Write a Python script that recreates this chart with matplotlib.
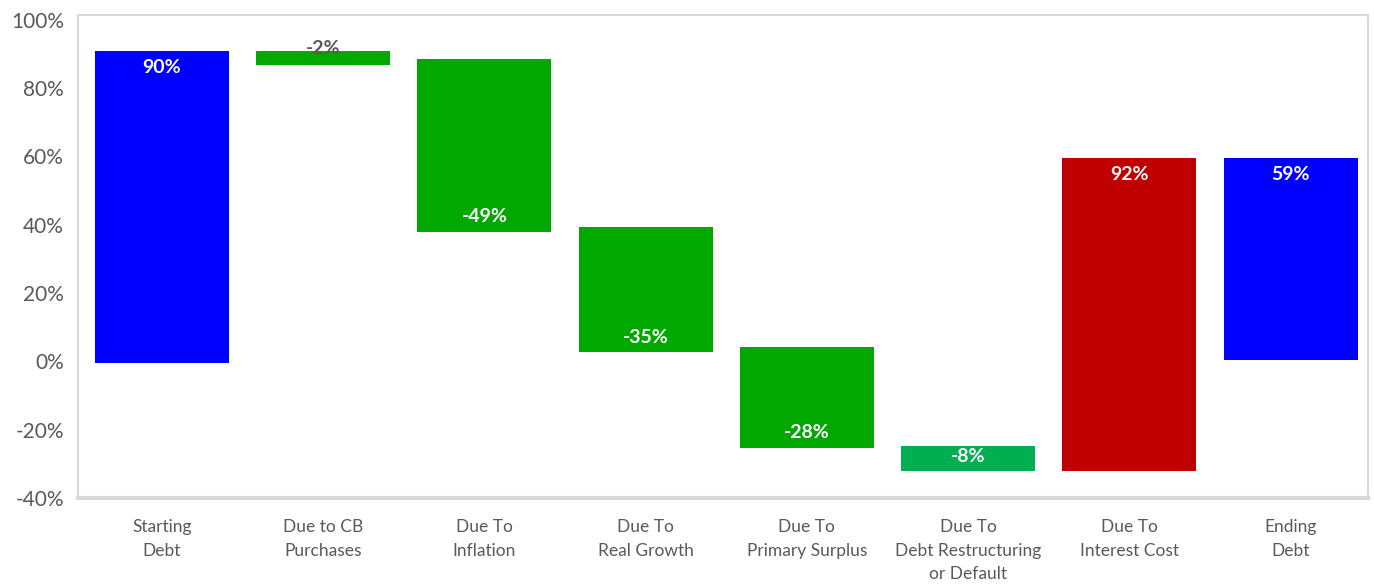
import numpy as np
import matplotlib.pyplot as plt

# waterfall data (% of GDP), bar bottoms/tops
categories = ["Starting\nDebt", "Due to CB\nPurchases", "Due To\nInflation", "Due To\nReal Growth",
              "Due To\nPrimary Surplus", "Due To\nDebt Restructuring\nor Default",
              "Due To\nInterest Cost", "Ending\nDebt"]
changes = [90, -2, -49, -35, -28, -8, 92, 59]
bottoms = [-0.5, 86.8, 37.8, 2.6, -25.3, -32.2, -32.2, 0.3]
tops = [91.0, 91.0, 88.6, 39.3, 4.3, -24.7, 59.6, 59.6]
colors = ["#0000FF", "#00A800", "#00A800", "#00A800", "#00A800", "#00B050", "#C00000", "#0000FF"]

plt.rcParams['font.family'] = ['Lato', 'DejaVu Sans']

fig = plt.figure(figsize=(13.74, 5.85), dpi=100)
ax = fig.add_axes([78/1374, 1-498/585, 1290/1374, 483/585])

x = np.arange(len(categories))
bottoms = np.array(bottoms)
tops = np.array(tops)
ax.bar(x+0.02, tops-bottoms, bottom=bottoms, width=0.83, color=colors, zorder=3)

#labels: inside top for increases, inside bottom for decreases, small one on top
for i in range(len(x)):
    v = changes[i]
    xc = x[i]+0.02
    if abs(tops[i]-bottoms[i]) < 6:
        if v == -2:
            ax.annotate(f"{v}%", (xc, tops[i]), xytext=(0, 1.5), textcoords='offset points',
                        ha='center', va='center', color='#595959', fontsize=14, fontweight='bold', zorder=4)
        else:
            ax.text(xc, (tops[i]+bottoms[i])/2, f"{v}%", ha='center', va='center',
                    color='white', fontsize=14, fontweight='bold', zorder=4)
    elif v > 0:
        ax.annotate(f"{v}%", (xc, tops[i]), xytext=(0, -12), textcoords='offset points',
                    ha='center', va='center', color='white', fontsize=14, fontweight='bold', zorder=4)
    else:
        ax.annotate(f"{v}%", (xc, bottoms[i]), xytext=(0, 11), textcoords='offset points',
                    ha='center', va='center', color='white', fontsize=14, fontweight='bold', zorder=4)

ax.set_xlim(-0.5, len(x)-0.5)
ax.set_ylim(-40, 101.4)
ax.set_yticks(np.arange(-40, 101, 20))
ax.set_yticklabels([f"{t}%" for t in range(-40, 101, 20)])
ax.set_xticks(x+0.02)
ax.set_xticklabels(categories, linespacing=1.6)
ax.tick_params(axis='y', length=0, labelsize=15, labelcolor='#595959', pad=10)
ax.tick_params(axis='x', length=0, labelsize=12.5, labelcolor='#595959', pad=15)

for s in ax.spines.values():
    s.set_color('#D9D9D9')
    s.set_linewidth(1.5)
ax.spines['bottom'].set_linewidth(3)

fig.savefig("out.png", dpi=100)
